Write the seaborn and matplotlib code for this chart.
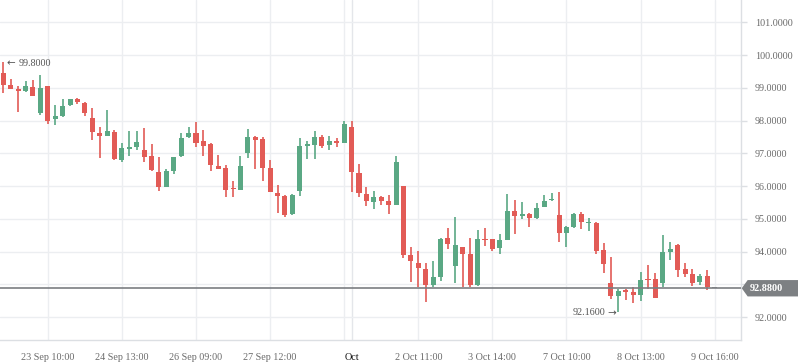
import numpy as np
import pandas as pd
import matplotlib
matplotlib.use("Agg")
import matplotlib.pyplot as plt
import seaborn as sns
from matplotlib.patches import Polygon

opens = [99.45, 99.09, 98.96, 98.91, 99.02, 98.24, 99.06, 98.06, 98.15, 98.47,
         98.65, 98.53, 98.08, 97.61, 97.54, 97.65, 96.80, 97.14, 97.18, 97.10,
         96.92, 96.43, 95.98, 96.47, 96.92, 97.50, 97.62, 97.37, 97.29, 96.61,
         96.55, 95.92, 95.89, 97.02, 97.50, 97.44, 96.55, 95.78, 95.69, 95.15,
         95.86, 97.23, 97.26, 97.50, 97.26, 97.37, 97.32, 97.80, 96.40, 95.76,
         95.52, 95.66, 95.54, 95.43, 96.00, 93.89, 93.65, 93.47, 92.99, 93.23,
         94.41, 93.57, 94.14, 93.92, 92.99, 94.38, 94.38, 94.12, 94.36, 95.24,
         95.09, 95.14, 95.02, 95.36, 95.57, 95.11, 94.57, 94.75, 95.14, 94.87,
         94.88, 94.05, 93.05, 92.65, 92.83, 92.76, 92.68, 93.16, 93.16, 93.04,
         93.99, 94.20, 93.47, 93.31, 93.07, 93.25, 92.88]
highs = [99.80, 99.27, 99.05, 99.20, 99.24, 99.39, 99.06, 98.47, 98.66, 98.66,
         98.69, 98.57, 98.37, 97.81, 98.32, 97.71, 97.30, 97.68, 97.69, 97.77,
         97.27, 96.89, 96.53, 96.89, 97.61, 97.80, 97.95, 97.71, 97.32, 96.95,
         96.64, 96.15, 96.92, 97.74, 97.54, 97.50, 96.79, 96.02, 95.72, 95.75,
         97.47, 97.37, 97.68, 97.56, 97.53, 97.47, 97.98, 97.98, 96.68, 95.97,
         95.85, 95.69, 95.72, 96.92, 96.00, 94.14, 94.02, 93.65, 93.71, 94.41,
         94.72, 95.05, 94.14, 94.41, 94.66, 94.72, 94.38, 94.53, 95.76, 95.57,
         95.51, 95.18, 95.48, 95.72, 95.79, 95.82, 94.78, 95.18, 95.21, 95.02,
         94.91, 94.26, 93.83, 92.85, 92.86, 92.92, 93.37, 93.59, 93.34, 94.50,
         94.29, 94.23, 93.66, 93.47, 93.31, 93.44, 92.88]
lows = [98.85, 98.97, 98.27, 98.87, 98.76, 98.18, 97.90, 97.87, 98.12, 98.44,
        98.49, 98.15, 97.41, 96.86, 97.54, 96.79, 96.74, 96.93, 97.10, 96.74,
        96.46, 95.86, 95.96, 96.37, 96.88, 97.47, 97.20, 96.92, 96.47, 96.53,
        95.67, 95.67, 95.89, 96.86, 96.53, 96.16, 95.81, 95.18, 95.06, 95.11,
        95.69, 96.82, 96.82, 97.17, 97.10, 97.20, 97.32, 95.83, 95.67, 95.40,
        95.31, 95.43, 95.15, 95.43, 93.81, 93.08, 92.92, 92.47, 92.92, 93.11,
        94.08, 93.05, 92.92, 92.92, 92.95, 94.17, 94.02, 93.93, 94.36, 94.53,
        95.00, 94.75, 94.99, 95.36, 95.54, 94.30, 94.15, 94.73, 94.70, 94.64,
        93.93, 93.35, 92.56, 92.16, 92.53, 92.44, 92.50, 92.86, 92.59, 92.92,
        93.75, 93.23, 93.23, 92.95, 92.98, 92.83, 92.88]
closes = [99.09, 98.97, 98.91, 99.05, 98.76, 98.99, 97.99, 98.14, 98.44, 98.66,
          98.57, 98.24, 97.66, 97.54, 97.68, 96.84, 97.15, 97.19, 97.33, 96.90,
          96.49, 95.98, 96.46, 96.89, 97.47, 97.63, 97.32, 97.23, 96.65, 96.53,
          95.89, 95.90, 96.61, 97.50, 97.41, 96.56, 95.83, 95.70, 95.11, 95.72,
          97.22, 97.29, 97.50, 97.23, 97.37, 97.32, 97.90, 96.44, 95.80, 95.55,
          95.66, 95.55, 95.43, 96.73, 93.89, 93.72, 93.50, 92.99, 93.22, 94.38,
          94.24, 94.20, 93.93, 92.99, 94.38, 94.36, 94.08, 94.35, 95.24, 95.09,
          95.14, 95.02, 95.33, 95.54, 95.60, 94.56, 94.75, 95.14, 94.91, 94.90,
          94.02, 93.63, 92.65, 92.79, 92.78, 92.68, 93.13, 93.14, 92.59, 93.98,
          94.08, 93.44, 93.32, 93.04, 93.24, 92.92, 92.88]

tick_pos = [6, 16, 26, 36, 47, 56, 66, 76, 86, 96]
tick_labels = ["23 Sep 10:00", "24 Sep 13:00", "26 Sep 09:00", "27 Sep 12:00", "Oct",
               "2 Oct 11:00", "3 Oct 14:00", "7 Oct 10:00", "8 Oct 13:00", "9 Oct 16:00"]
grid_x = [6, 16, 26, 36, 46, 47, 56, 66, 76, 86, 96]
y_ticks = [92, 93, 94, 95, 96, 97, 98, 99, 100, 101]
hidden_y_label = 93
last_price = 92.88
max_idx, max_val = 0, 99.80
min_idx, min_val = 83, 92.16

sns.set_theme(style="white")
plt.rcParams['font.family'] = ['Liberation Serif', 'DejaVu Sans']

df = pd.DataFrame({"idx": np.arange(len(opens)), "open": opens, "high": highs,
                   "low": lows, "close": closes})
UP, DOWN, FLAT = "#5aa884", "#e25b56", "#8a8d91"
df["color"] = np.where(df.close > df.open, UP, np.where(df.close < df.open, DOWN, FLAT))
df["bottom"] = df[["open", "close"]].min(axis=1)
df["height"] = (df.close - df.open).abs().clip(lower=0.03)

fig, ax = plt.subplots(figsize=(7.98, 3.63), dpi=100)
fig.subplots_adjust(left=0, right=741 / 798, bottom=23 / 363, top=1)

grid_c = "#eceef1"
for gx in grid_x:
    ax.axvline(gx, color="#e4e6ea" if gx == 47 else grid_c, lw=1, zorder=0)
for gy in y_ticks:
    ax.axhline(gy, color=grid_c, lw=1, zorder=0)

ax.vlines(df.idx, df.low, df.high, colors=df.color, lw=1.2, zorder=2)
ax.bar(df.idx, df.height, bottom=df.bottom, width=0.68, color=df.color, lw=0, zorder=3)

ax.axhline(last_price, color="#7b7e82", lw=1.2, zorder=4)

ax.set_xlim(-0.45, 99.55)
ax.set_ylim(91.30, 101.68)

ax.yaxis.tick_right()
ax.set_yticks(y_ticks)
ax.set_yticklabels(["" if v == hidden_y_label else f"{v:.4f}" for v in y_ticks])
ax.set_xticks(tick_pos)
ax.set_xticklabels(tick_labels)
ax.tick_params(axis="both", which="both", labelsize=7.3, colors="#dcdfe3",
               labelcolor="#6b6b6b", length=4, width=1, direction="out")
ax.tick_params(axis="y", pad=6)
ax.tick_params(axis="x", pad=5)
for lab in ax.get_xticklabels():
    if lab.get_text() == "Oct":
        lab.set_color("#111111")

for s in ["top", "left"]:
    ax.spines[s].set_visible(False)
for s in ["right", "bottom"]:
    ax.spines[s].set_color("#dcdfe3")
    ax.spines[s].set_linewidth(1)

# extremes
ax.annotate("\u2190", xy=(max_idx, max_val), xytext=(3, -2),
            textcoords="offset pixels", ha="left", va="center",
            fontsize=7.5, color="#555555", zorder=5, family="DejaVu Sans")
ax.annotate(f"{max_val:.4f}", xy=(max_idx, max_val), xytext=(15, -2),
            textcoords="offset pixels", ha="left", va="center",
            fontsize=7.3, color="#555555", zorder=5)
ax.annotate(f"{min_val:.4f}", xy=(min_idx, min_val), xytext=(-13, -1),
            textcoords="offset pixels", ha="right", va="center",
            fontsize=7.3, color="#555555", zorder=5)
ax.annotate("\u2192", xy=(min_idx, min_val), xytext=(-2, -1),
            textcoords="offset pixels", ha="right", va="center",
            fontsize=7.5, color="#555555", zorder=5, family="DejaVu Sans")

# last price tag
trans = ax.get_yaxis_transform()
h = 0.25
tag = Polygon([(1.001, last_price), (1.009, last_price + h), (1.08, last_price + h),
               (1.08, last_price - h), (1.009, last_price - h)],
              closed=True, transform=trans, clip_on=False, facecolor="#7d8083",
              edgecolor="none", zorder=6)
ax.add_patch(tag)
ax.text(1.012, last_price, f"{last_price:.4f}", transform=trans, ha="left", va="center",
        fontsize=7.3, color="white", fontweight="bold", clip_on=False, zorder=7)

fig.savefig("out.png", dpi=100)
